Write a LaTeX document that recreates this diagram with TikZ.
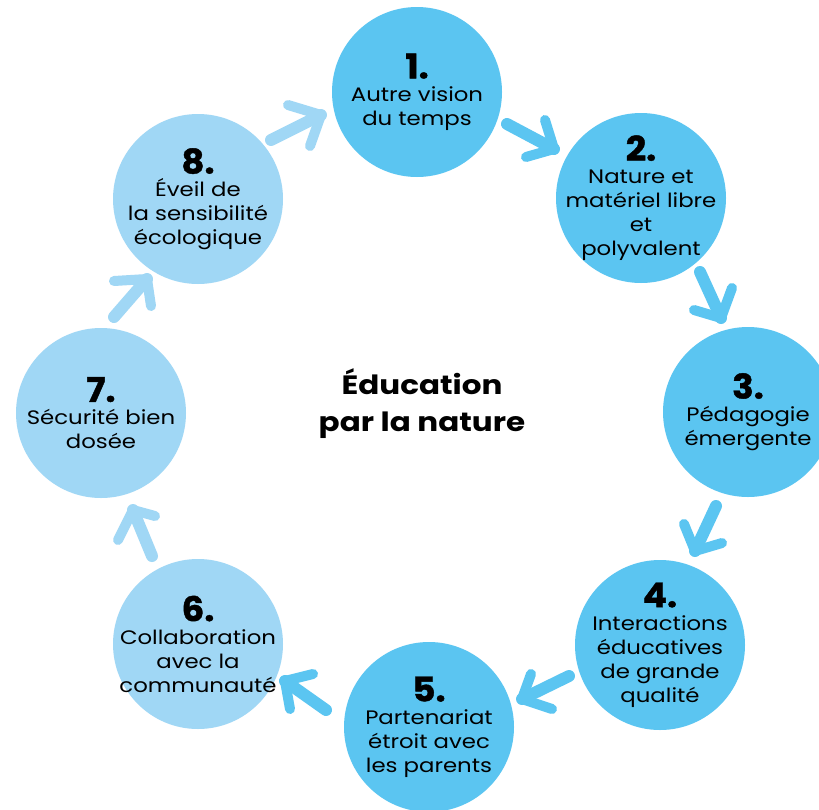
\documentclass[tikz,border=0pt]{standalone}
\usepackage{fontspec}
\setmainfont{Poppins}[FakeStretch=1.17]
\newfontfamily\numfont{Poppins}[FakeStretch=1.05,BoldFeatures={FakeBold=1.2}]
\definecolor{cdark}{RGB}{91,197,241}
\definecolor{clight}{RGB}{160,215,245}
\begin{document}
\begin{tikzpicture}[x=1pt,y=-1pt,
  bubble/.style={circle,minimum size=170pt,inner sep=0pt},
  label/.style={align=center,inner sep=0pt,font=\fontsize{19.5}{24}\selectfont,text=black},
  arr/.style={line width=12pt,line cap=round,line join=round},
  ahead/.style={line width=10pt,line cap=round,line join=round}]
\newcommand{\numtxt}[1]{{\numfont\fontsize{34}{30}\selectfont\bfseries #1}\\[-1pt]}
\path[use as bounding box,fill=white] (0,0) rectangle (819,809);
% circles
\node[bubble,fill=cdark]  (c1) at (417,92)  {};
\node[bubble,fill=cdark]  (c2) at (641,198) {};
\node[bubble,fill=cdark]  (c3) at (748,412) {};
\node[bubble,fill=cdark]  (c4) at (660,645) {};
\node[bubble,fill=cdark]  (c5) at (429,727) {};
\node[bubble,fill=clight] (c6) at (198,644) {};
\node[bubble,fill=clight] (c7) at (101,413) {};
\node[bubble,fill=clight] (c8) at (198,199) {};
% texts
\node[label] (t1) at (c1) {\numtxt{1.}Autre vision\\du temps};
\node[label] (t2) at (c2) {\numtxt{2.}Nature et\\matériel libre\\et\\polyvalent};
\node[label] (t3) at (c3) {\numtxt{3.}Pédagogie\\émergente};
\node[label] (t4) at (c4) {\numtxt{4.}Interactions\\éducatives\\de grande\\qualité};
\node[label] (t5) at (c5) {\numtxt{5.}Partenariat\\étroit avec\\les parents};
\node[label] (t6) at (c6) {\numtxt{6.}Collaboration\\avec la\\communauté};
\node[label] (t7) at (c7) {\numtxt{7.}Sécurité bien\\dosée};
\node[label] (t8) at (c8) {\numtxt{8.}Éveil de\\la sensibilité\\écologique};
\node[align=center,font=\fontsize{26.5}{37}\selectfont\bfseries] (ctr) at (422,404) {Éducation\\par la nature};
% arrow coordinates
\coordinate (a12s) at (507,124); \coordinate (a12t) at (554,149);
\coordinate (a12h) at (545,120); \coordinate (a12k) at (526,157);
\coordinate (a23s) at (700,272); \coordinate (a23t) at (721,318);
\coordinate (a23h) at (732,288); \coordinate (a23k) at (694,310);
\coordinate (a34s) at (716,506); \coordinate (a34t) at (695,551);
\coordinate (a34h) at (684,524); \coordinate (a34k) at (722,543);
\coordinate (a45s) at (569,676); \coordinate (a45t) at (522,699);
\coordinate (a45h) at (531,674); \coordinate (a45k) at (552,709);
\coordinate (a56s) at (326,710); \coordinate (a56t) at (285,681);
\coordinate (a56h) at (313,674); \coordinate (a56k) at (290,709);
\coordinate (a67s) at (152,556); \coordinate (a67t) at (133,510);
\coordinate (a67h) at (155,516); \coordinate (a67k) at (118,540);
\coordinate (a78s) at (114,317); \coordinate (a78t) at (147,279);
\coordinate (a78h) at (114,281); \coordinate (a78k) at (151,306);
\coordinate (a81s) at (271,140); \coordinate (a81t) at (321,115);
\coordinate (a81h) at (288,105); \coordinate (a81k) at (310,146);
% arrows
\foreach \a/\c in {a12/cdark,a23/cdark,a34/cdark,a45/cdark,a56/cdark,a67/clight,a78/clight,a81/clight}{
  \draw[arr,\c] (\a s) -- (\a t);
  \draw[ahead,\c] (\a h) -- (\a t) -- (\a k);
}
\end{tikzpicture}
\end{document}
